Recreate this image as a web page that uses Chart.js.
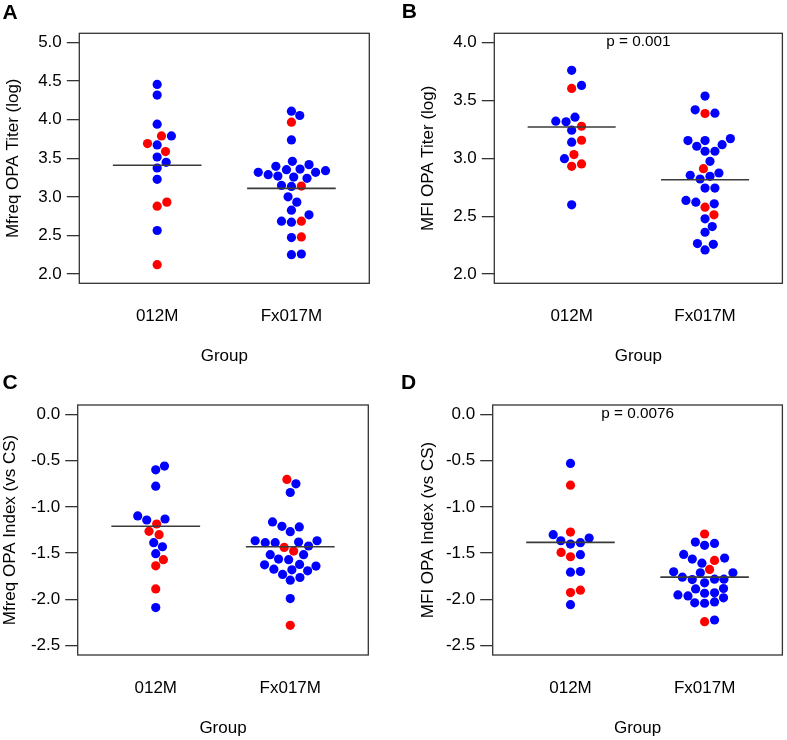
<!DOCTYPE html>
<html>
<head>
<meta charset="utf-8">
<script src="https://cdn.jsdelivr.net/npm/chart.js@4.4.1/dist/chart.umd.min.js"></script>
<style>
html,body{margin:0;padding:0;background:#fff;}
#wrap{position:relative;width:787px;height:740px;overflow:hidden;}
canvas{position:absolute;}
</style>
</head>
<body>
<div id="wrap">
<canvas id="cA" width="393" height="370" style="left:0px;top:0px"></canvas>
<canvas id="cB" width="394" height="370" style="left:393px;top:0px"></canvas>
<canvas id="cC" width="393" height="370" style="left:0px;top:370px"></canvas>
<canvas id="cD" width="394" height="370" style="left:393px;top:370px"></canvas>
</div>
<script>
// ---------------- DATA ----------------
const groups = ["012M", "Fx017M"];
const xTitle = "Group";

// Panel A: Mfreq OPA Titer (log)
const aTitle = "Mfreq OPA Titer (log)";
const aTicks = [2.0, 2.5, 3.0, 3.5, 4.0, 4.5, 5.0];
const aRange = [1.88, 5.12];
const a012Values  = [4.458, 4.319, 3.942, 3.790, 3.790, 3.691, 3.673, 3.587, 3.517, 3.448, 3.374, 3.227, 2.932, 2.880, 2.564, 2.121];
const a012Offsets = [0, 0, 0, 0.032, 0.106, -0.072, 0, 0.062, 0, 0.067, 0, 0, 0.072, 0, 0, 0];
const a012Red     = [0, 0, 0, 1, 0, 1, 0, 1, 0, 0, 0, 0, 1, 1, 0, 1];
const aFxValues   = [4.111, 4.055, 3.968, 3.738, 3.461, 3.418, 3.396, 3.361, 3.353, 3.340, 3.318, 3.318, 3.288, 3.270, 3.257, 3.240, 3.149, 3.140, 3.136, 3.001, 2.932, 2.828, 2.767, 2.685, 2.685, 2.672, 2.481, 2.473, 2.260, 2.251];
const aFxOffsets  = [0, 0.062, 0, 0, 0.007, 0.131, -0.116, 0.064, -0.037, 0.254, -0.247, 0.180, -0.173, -0.101, 0.017, 0.116, -0.074, 0.074, 0, -0.025, 0.040, 0, 0.131, -0.074, 0.074, 0, 0.074, 0, 0.074, 0];
const aFxRed      = [0, 0, 1, 0, 0, 0, 0, 0, 0, 0, 0, 0, 0, 0, 0, 0, 0, 1, 0, 0, 0, 0, 0, 0, 1, 0, 1, 0, 0, 0];
const aMedians = [3.41, 3.11];

// Panel B: MFI OPA Titer (log)
const bTitle = "MFI OPA Titer (log)";
const bTicks = [2.0, 2.5, 3.0, 3.5, 4.0];
const bRange = [1.92, 4.08];
const b012Values  = [3.760, 3.630, 3.604, 3.355, 3.321, 3.315, 3.277, 3.243, 3.156, 3.139, 3.032, 2.997, 2.951, 2.931, 2.598];
const b012Offsets = [0, 0.074, 0, 0.025, -0.119, -0.042, 0.074, 0, 0.074, 0, 0.017, -0.054, 0.074, 0, 0];
const b012Red     = [0, 0, 1, 0, 0, 0, 1, 0, 1, 0, 1, 0, 1, 1, 0];
const bFxValues   = [3.538, 3.419, 3.390, 3.387, 3.170, 3.153, 3.153, 3.118, 3.104, 3.061, 3.061, 2.974, 2.910, 2.873, 2.853, 2.844, 2.821, 2.743, 2.743, 2.636, 2.621, 2.607, 2.578, 2.512, 2.477, 2.410, 2.361, 2.263, 2.257, 2.208];
const bFxOffsets  = [0, -0.074, 0.074, 0, 0.190, -0.128, 0, 0.128, -0.062, 0, 0.074, 0.037, -0.012, 0.104, -0.111, 0.037, -0.037, 0, 0.074, -0.143, -0.069, 0.069, 0, 0.067, 0, 0.054, 0, -0.057, 0.062, 0];
const bFxRed      = [0, 0, 0, 1, 0, 0, 0, 0, 0, 0, 0, 0, 1, 0, 0, 0, 0, 0, 0, 0, 0, 0, 1, 1, 0, 0, 0, 0, 0, 0];
const bMedians = [3.27, 2.815];
const bPText = "p = 0.001";

// Panel C: Mfreq OPA Index (vs CS)
const cTitle = "Mfreq OPA Index (vs CS)";
const cTicks = [-2.5, -2.0, -1.5, -1.0, -0.5, 0.0];
const cRange = [-2.6, 0.1];
const c012Values  = [-0.560, -0.600, -0.777, -1.098, -1.131, -1.142, -1.185, -1.264, -1.301, -1.387, -1.431, -1.506, -1.571, -1.637, -1.886, -2.088];
const c012Offsets = [0.065, 0, 0, -0.134, 0.069, -0.067, 0.007, -0.050, 0.025, -0.015, 0.050, 0, 0.057, 0, 0, 0];
const c012Red     = [0, 0, 0, 0, 0, 0, 1, 1, 1, 0, 0, 0, 1, 1, 1, 0];
const cFxValues   = [-0.704, -0.751, -0.845, -1.163, -1.210, -1.217, -1.268, -1.366, -1.366, -1.380, -1.387, -1.387, -1.423, -1.438, -1.478, -1.517, -1.517, -1.564, -1.571, -1.622, -1.626, -1.640, -1.673, -1.680, -1.691, -1.730, -1.763, -1.792, -1.991, -2.280];
const cFxOffsets  = [-0.025, 0.042, 0, -0.132, -0.062, 0.067, 0, -0.261, 0.199, 0.062, -0.186, -0.112, 0.136, -0.045, 0.025, -0.149, 0.099, -0.087, -0.012, 0.069, -0.191, 0.191, -0.122, 0.012, 0.129, -0.057, 0.072, 0, 0, 0];
const cFxRed      = [1, 0, 0, 0, 0, 0, 0, 0, 0, 0, 0, 0, 0, 1, 1, 0, 0, 0, 0, 0, 0, 0, 0, 0, 0, 0, 0, 0, 0, 1];
const cMedians = [-1.21, -1.431];

// Panel D: MFI OPA Index (vs CS)
const dTitle = "MFI OPA Index (vs CS)";
const dTicks = [-2.5, -2.0, -1.5, -1.0, -0.5, 0.0];
const dRange = [-2.6, 0.1];
const d012Values  = [-0.531, -0.766, -1.272, -1.301, -1.337, -1.366, -1.387, -1.402, -1.492, -1.517, -1.539, -1.698, -1.705, -1.900, -1.926, -2.056];
const d012Offsets = [0, 0, 0, -0.129, 0.139, -0.072, 0.074, 0, -0.070, 0.074, 0, 0.074, 0, 0.074, 0, 0];
const d012Red     = [0, 1, 1, 0, 0, 0, 0, 0, 1, 0, 1, 0, 0, 1, 1, 0];
const dFxValues   = [-1.293, -1.380, -1.395, -1.416, -1.514, -1.553, -1.564, -1.579, -1.608, -1.676, -1.702, -1.712, -1.712, -1.759, -1.781, -1.781, -1.785, -1.821, -1.882, -1.886, -1.929, -1.933, -1.951, -1.962, -1.983, -2.027, -2.037, -2.041, -2.222, -2.240];
const dFxOffsets  = [0, -0.069, 0.074, 0, -0.156, 0.149, -0.092, 0.074, -0.020, 0.037, -0.231, -0.032, 0.211, -0.166, 0.074, 0.144, -0.092, 0, 0.141, -0.067, 0.074, 0, -0.199, -0.124, 0.141, 0.074, -0.074, 0, 0.074, 0];
const dFxRed      = [1, 0, 0, 0, 0, 0, 0, 1, 0, 1, 0, 0, 0, 0, 0, 0, 0, 0, 0, 0, 0, 0, 0, 0, 0, 0, 0, 0, 0, 1];
const dMedians = [-1.384, -1.759];
const dPText = "p = 0.0076";

// ---------------- RENDERING ----------------
const FONT = '"Liberation Sans", Arial, Helvetica, sans-serif';
Chart.defaults.font.family = FONT;
Chart.defaults.color = '#000';

const xRange = [0.42, 2.58];
const medianHalf = 0.33;

const decor = {
  id: 'decor',
  afterDraw(chart, args, o) {
    const ctx = chart.ctx, a = chart.chartArea;
    ctx.save();
    ctx.strokeStyle = '#333';
    ctx.lineWidth = 1.3;
    ctx.strokeRect(a.left, a.top, a.right - a.left, a.bottom - a.top);
    ctx.fillStyle = '#000';
    ctx.textBaseline = 'alphabetic';
    ctx.textAlign = 'left';
    ctx.font = 'bold 21px ' + FONT;
    ctx.fillText(o.letter, o.letterX, o.letterY);
    if (o.pText) {
      ctx.font = '15.3px ' + FONT;
      ctx.textAlign = 'center';
      const y = chart.scales.y.getPixelForValue(o.pY) + 3.5;
      const x = chart.scales.x.getPixelForValue(1.5);
      ctx.fillText(o.pText, x, y);
    }
    ctx.restore();
  }
};

function pts(vals, offs, red, g, want) {
  const out = [];
  vals.forEach((v, i) => { if (red[i] === want) out.push({x: g + offs[i], y: v}); });
  return out;
}

function build(p) {
  const blue = pts(p.v1, p.o1, p.r1, 1, 0).concat(pts(p.v2, p.o2, p.r2, 2, 0));
  const red = pts(p.v1, p.o1, p.r1, 1, 1).concat(pts(p.v2, p.o2, p.r2, 2, 1));
  const medLine = (g, m) => ({
    type: 'scatter', showLine: true,
    data: [{x: g - medianHalf, y: m}, {x: g + medianHalf, y: m}],
    borderColor: '#3a3a3a', borderWidth: 1.6, pointRadius: 0, order: 0
  });
  new Chart(document.getElementById(p.id), {
    type: 'scatter',
    data: {
      datasets: [
        medLine(1, p.med[0]),
        medLine(2, p.med[1]),
        {data: red, backgroundColor: '#ff0000', borderWidth: 0, pointRadius: 4.6, order: 1},
        {data: blue, backgroundColor: '#0000ff', borderWidth: 0, pointRadius: 4.6, order: 2}
      ]
    },
    options: {
      responsive: false,
      animation: false,
      devicePixelRatio: 1,
      layout: {padding: {left: 0, top: p.top, right: p.right, bottom: 0}},
      plugins: {
        legend: {display: false},
        tooltip: {enabled: false},
        decor: {letter: p.letter, letterX: p.lx, letterY: p.ly, pText: p.pText, pY: p.pY}
      },
      scales: {
        x: {
          type: 'linear', min: xRange[0], max: xRange[1],
          afterBuildTicks: s => { s.ticks = [{value: 1}, {value: 2}]; },
          afterFit: s => { s.height = p.xH; },
          ticks: {callback: v => groups[v - 1], padding: 23.1, color: '#000', font: {size: 17}, maxRotation: 0, autoSkip: false},
          grid: {display: false, drawTicks: false},
          border: {display: false},
          title: {display: true, text: xTitle, color: '#000', font: {size: 17}, padding: {top: 0, bottom: p.xtp}}
        },
        y: {
          type: 'linear', min: p.range[0], max: p.range[1],
          afterBuildTicks: s => { s.ticks = p.ticks.map(v => ({value: v})); },
          afterFit: s => { s.width = p.yW; },
          ticks: {callback: v => Number(v).toFixed(1), padding: 5, color: '#000', font: {size: 17}},
          grid: {drawOnChartArea: false, drawTicks: true, tickLength: 12.5, color: '#333', lineWidth: 1.3},
          border: {display: false},
          title: {display: true, text: p.title, color: '#000', font: {size: 17}, padding: {top: p.ytp, bottom: 0}}
        }
      }
    },
    plugins: [decor]
  });
}

build({id: 'cA', letter: 'A', lx: 2.5, ly: 19.3, top: 33.3, right: 23.7, yW: 79.3, xH: 86.7, ytp: 3.6, xtp: 3.3,
  title: aTitle, ticks: aTicks, range: aRange, v1: a012Values, o1: a012Offsets, r1: a012Red,
  v2: aFxValues, o2: aFxOffsets, r2: aFxRed, med: aMedians});
build({id: 'cB', letter: 'B', lx: 8.7, ly: 18.3, top: 33.3, right: 2, yW: 101.3, xH: 86.7, ytp: 25.6, xtp: 3.3,
  title: bTitle, ticks: bTicks, range: bRange, v1: b012Values, o1: b012Offsets, r1: b012Red,
  v2: bFxValues, o2: bFxOffsets, r2: bFxRed, med: bMedians, pText: bPText, pY: bTicks[bTicks.length - 1]});
build({id: 'cC', letter: 'C', lx: 2.5, ly: 19.3, top: 35, right: 24.7, yW: 77.7, xH: 85, ytp: 0.3, xtp: 1.8,
  title: cTitle, ticks: cTicks, range: cRange, v1: c012Values, o1: c012Offsets, r1: c012Red,
  v2: cFxValues, o2: cFxOffsets, r2: cFxRed, med: cMedians});
build({id: 'cD', letter: 'D', lx: 8, ly: 19, top: 35, right: 3.7, yW: 99.7, xH: 85, ytp: 25, xtp: 1.8,
  title: dTitle, ticks: dTicks, range: dRange, v1: d012Values, o1: d012Offsets, r1: d012Red,
  v2: dFxValues, o2: dFxOffsets, r2: dFxRed, med: dMedians, pText: dPText, pY: dTicks[dTicks.length - 1]});
</script>
</body>
</html>
